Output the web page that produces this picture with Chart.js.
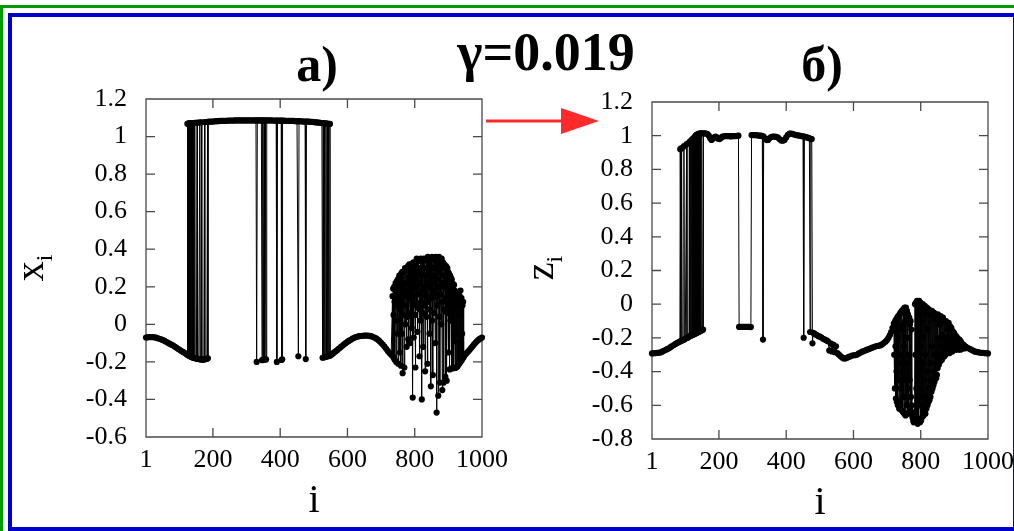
<!DOCTYPE html>
<html><head><meta charset="utf-8">
<script src="https://cdn.jsdelivr.net/npm/chart.js@4.4.0/dist/chart.umd.min.js"></script>
<style>
html,body{margin:0;padding:0;background:#fff;overflow:hidden;}
#wrap{position:relative;width:1014px;height:531px;overflow:hidden;background:#fff;}
canvas{position:absolute;left:0;top:0;}
svg{position:absolute;left:0;top:0;}
.gb{position:absolute;left:0;top:5px;width:1030px;height:600px;border-left:3px solid #009a00;border-top:3px solid #009a00;box-sizing:border-box;}
.bb{position:absolute;left:8px;top:13px;width:1009px;height:518px;border:4px solid #0000cc;box-sizing:border-box;}
</style></head>
<body><div id="wrap">
<div class="gb"></div><div class="bb"></div>
<canvas id="ca" width="1014" height="531"></canvas>
<canvas id="cb" width="1100" height="531"></canvas>
<svg width="1014" height="531" font-family="Liberation Serif">
  <text x="317" y="81" font-size="50" font-weight="bold" text-anchor="middle">a)</text>
  <text x="546" y="70" font-size="54" font-weight="bold" text-anchor="middle">γ=0.019</text>
  <text x="822" y="81" font-size="50" font-weight="bold" text-anchor="middle">б)</text>
  <text x="314" y="512" font-size="40" text-anchor="middle">i</text>
  <text x="820" y="514" font-size="40" text-anchor="middle">i</text>
  <text transform="translate(43,268) rotate(-90)" font-size="40" text-anchor="middle">x<tspan font-size="24" dy="9">i</tspan></text>
  <text transform="translate(553,268) rotate(-90)" font-size="40" text-anchor="middle">z<tspan font-size="24" dy="9">i</tspan></text>
  <line x1="486" y1="121" x2="566" y2="121" stroke="#ff2b2b" stroke-width="3"/>
  <polygon points="561,108 599,121 561,134" fill="#ff2b2b"/>
</svg>
</div>
<script>
// ---------- data ----------
const xTicks = [1, 200, 400, 600, 800, 1000];
const yTicksA = [-0.6, -0.4, -0.2, 0, 0.2, 0.4, 0.6, 0.8, 1, 1.2];
const yTicksB = [-0.8, -0.6, -0.4, -0.2, 0, 0.2, 0.4, 0.6, 0.8, 1, 1.2];
// consecutive oscillator numbers a..b (category indices only)
const range = (a, b) => Array.from({length: b - a + 1}, (_, k) => a + k);

// panel a) x_i : sampled oscillators outside the incoherent cluster
const iA1 = [
1,6,11,16,21,26,31,36,41,46,51,56,61,66,71,76,81,86,91,96,101,106,111,116,120,123,
124,125,126,127,128,129,130,131,132,133,134,135,136,138,139,140,141,143,144,146,147,149,151,153,154,156,158,161,162,164,166,167,170,173,175,176,179,182,184,185,186,
190,195,200,205,210,215,220,225,230,235,240,245,250,255,260,265,270,275,280,285,290,295,300,305,310,315,320,325,328,
330,332,336,340,344,346,348,350,352,354,356,358,360,365,370,375,380,385,388,390,392,396,400,403,404,406,407,411,415,420,425,430,435,440,445,450,452,454,456,460,465,470,474,476,478,482,486,490,495,500,505,510,515,520,524,
526,528,530,532,534,536,538,540,542,544,546,548,
549,553,557,561,565,569,573,577,581,585,589,593,597,601,605,610,615,620,625,630,635,640,645,650,655,660,665,670,675,680,685,690,695,700,705,710,715,720,725,730];
const xA1 = [
-0.070,-0.069,-0.068,-0.068,-0.068,-0.069,-0.071,-0.074,-0.077,-0.080,-0.084,-0.088,-0.093,-0.098,-0.103,-0.108,-0.112,-0.118,-0.124,-0.130,-0.136,-0.142,-0.147,-0.153,-0.157,-0.160,
1.068,-0.163,1.069,-0.165,1.069,-0.167,1.070,-0.169,1.070,-0.171,1.071,-0.173,1.071,-0.175,1.072,-0.177,1.072,-0.178,-0.179,1.073,-0.180,-0.181,-0.182,1.074,-0.183,-0.184,-0.185,1.075,-0.186,-0.187,1.076,-0.187,-0.188,-0.187,1.077,-0.186,-0.185,-0.183,1.078,-0.181,1.078,
1.079,1.080,1.080,1.081,1.082,1.082,1.083,1.083,1.084,1.084,1.084,1.085,1.085,1.085,1.085,1.086,1.086,1.086,1.086,1.086,1.086,1.086,1.086,1.086,1.086,1.086,1.086,1.086,1.086,
-0.200,1.086,1.086,1.086,1.086,-0.191,1.086,-0.189,1.086,-0.188,1.086,-0.187,1.086,1.086,1.086,1.086,1.085,1.085,1.085,-0.200,1.085,1.085,1.085,1.085,-0.190,-0.186,1.085,1.085,1.084,1.084,1.084,1.083,1.083,1.083,1.082,1.082,1.082,-0.170,1.082,1.081,1.081,1.080,1.080,-0.185,1.080,1.079,1.079,1.078,1.078,1.077,1.076,1.075,1.074,1.073,1.072,
-0.178,1.071,-0.176,1.070,-0.174,1.070,-0.172,1.069,-0.170,1.068,-0.168,1.067,
-0.166,-0.160,-0.155,-0.149,-0.144,-0.138,-0.132,-0.126,-0.120,-0.114,-0.108,-0.102,-0.097,-0.092,-0.087,-0.082,-0.076,-0.072,-0.068,-0.065,-0.063,-0.062,-0.061,-0.060,-0.060,-0.060,-0.061,-0.063,-0.066,-0.070,-0.075,-0.081,-0.089,-0.098,-0.108,-0.118,-0.130,-0.142,-0.153,-0.162];
// panel a) incoherent cluster, oscillators 734..946
const xA2 = [
0.15,-0.17,0.19,0.05,-0.18,0.20,0.12,-0.19,0.10,0.22,
0.18,-0.20,0.02,0.23,0.15,-0.05,0.24,-0.21,0.20,0.10,
0.26,0.08,-0.15,0.25,0.18,-0.22,0.27,0.12,-0.05,0.28,
-0.26,0.20,0.05,0.28,0.15,-0.23,0.22,0.30,0.00,0.18,
0.30,0.10,-0.12,0.29,0.22,0.04,0.31,-0.08,0.25,0.14,
0.32,0.20,-0.10,0.28,0.06,0.32,0.18,-0.02,0.30,0.12,
-0.39,0.27,0.33,-0.07,0.15,0.30,0.24,0.05,-0.23,0.33,
0.20,0.10,0.35,0.28,-0.04,0.34,0.16,0.26,0.34,0.08,
-0.17,0.30,0.22,0.02,0.35,0.12,0.28,-0.40,0.33,0.18,
0.06,-0.12,0.30,0.35,0.20,0.10,0.34,-0.25,0.26,0.15,
0.35,0.04,0.30,0.22,-0.21,0.36,0.12,0.28,0.34,0.08,
-0.05,0.32,0.20,0.35,-0.33,0.25,0.14,0.36,0.02,0.30,
-0.27,0.18,0.35,0.26,0.06,0.34,0.22,-0.10,0.36,0.15,
0.30,-0.47,0.24,0.35,0.10,0.32,-0.38,0.20,0.36,0.04,
0.28,-0.31,0.34,0.16,0.30,0.00,0.35,0.22,-0.35,0.12,
0.33,0.26,-0.31,0.08,0.32,0.20,0.30,-0.28,0.14,0.31,
0.24,-0.30,0.06,0.30,0.18,0.28,-0.15,0.10,0.27,0.22,
-0.24,0.26,0.02,0.25,0.15,-0.235,0.24,0.08,0.22,-0.234,
0.20,0.12,-0.233,0.21,-0.09,0.18,-0.232,0.10,0.17,-0.23,
0.14,-0.05,0.16,-0.225,0.08,0.12,-0.215,0.05,0.10,-0.208,
0.15,-0.20,0.18,-0.09,-0.195,0.14,-0.19,-0.05,0.10,-0.18,0.12,-0.175,-0.17];
const iA3 = [948,952,956,960,964,968,972,976,980,984,988,992,996,1000];
const xA3 = [-0.165,-0.158,-0.150,-0.142,-0.134,-0.125,-0.117,-0.108,-0.100,-0.092,-0.085,-0.079,-0.074,-0.070];

// panel б) z_i
const iB1 = [
1,6,11,16,21,26,31,36,41,46,51,56,61,66,71,76,81,84,
85,87,89,91,94,96,97,100,104,105,108,111,112,113,115,116,117,119,120,121,122,123,124,125,126,127,128,129,130,131,132,133,134,135,136,137,138,139,140,141,142,143,144,145,147,149,151,153,
154,158,162,166,170,174,178,182,186,190,194,198,202,206,210,215,220,225,230,235,240,245,250,254,258,
260,264,268,272,276,280,284,288,292,295,
297,300,305,310,315,320,325,329,331,333,338,342,346,350,355,360,365,370,375,380,385,390,395,400,405,410,415,420,425,430,435,440,445,450,452,454,458,462,466,469,471,473,476,478,
480,484,488,492,496,500,505,510,515,520,524,528,532,536,540,544,548,552,556,561,566,571,576,581,586,591,596,601,606,611,616,621,626,631,636,641,646,651,656,661,666,671,676,681,686,691,696,700,704,708,712,716,720];
const zB1 = [
-0.292,-0.291,-0.290,-0.289,-0.288,-0.286,-0.282,-0.277,-0.272,-0.267,-0.262,-0.255,-0.248,-0.242,-0.236,-0.230,-0.225,-0.222,
0.920,-0.218,0.926,-0.215,-0.212,0.938,-0.209,-0.205,0.950,-0.200,-0.197,-0.193,0.962,-0.190,-0.188,0.968,-0.186,0.975,-0.184,0.978,-0.182,0.981,-0.180,0.985,-0.178,0.990,-0.176,0.995,-0.174,1.000,-0.172,1.003,-0.170,1.006,-0.168,1.008,-0.166,1.010,-0.164,1.012,-0.162,1.013,-0.160,1.014,-0.157,1.014,-0.153,-0.150,
1.014,1.014,1.013,1.010,1.000,0.985,0.975,0.982,0.990,0.995,0.990,0.982,0.980,0.986,0.994,0.996,0.998,0.998,0.997,0.996,0.997,0.998,0.998,0.999,1.000,
-0.135,-0.135,-0.134,-0.134,-0.134,-0.134,-0.135,-0.135,-0.135,-0.136,
1.004,1.004,1.004,1.003,1.002,1.000,1.000,0.998,-0.210,0.995,0.982,0.974,0.975,0.985,0.992,0.995,0.995,0.993,0.990,0.980,0.972,0.970,0.975,0.990,1.005,1.012,1.012,1.010,1.006,1.004,1.002,1.000,0.998,0.996,-0.199,0.995,0.992,0.990,0.987,0.985,-0.165,0.982,0.980,-0.232,
-0.170,-0.175,-0.180,-0.185,-0.190,-0.193,-0.198,-0.205,-0.210,-0.215,-0.220,-0.275,-0.232,-0.280,-0.240,-0.285,-0.250,-0.290,-0.298,-0.308,-0.316,-0.322,-0.322,-0.318,-0.313,-0.309,-0.305,-0.303,-0.302,-0.299,-0.292,-0.287,-0.282,-0.278,-0.274,-0.270,-0.266,-0.262,-0.258,-0.254,-0.250,-0.248,-0.246,-0.243,-0.237,-0.229,-0.221,-0.212,-0.200,-0.185,-0.165,-0.140,-0.115];
// panel б) incoherent cluster, oscillators 721..935
const zB2 = [
-0.30,-0.11,-0.50,-0.10,-0.25,-0.56,-0.09,-0.40,-0.58,-0.08,
-0.20,-0.60,-0.07,-0.45,-0.35,-0.62,-0.06,-0.15,-0.58,-0.05,
-0.50,-0.30,-0.63,-0.04,-0.40,-0.12,-0.64,-0.03,-0.55,-0.25,
-0.65,-0.02,-0.45,-0.10,-0.66,-0.02,-0.35,-0.60,-0.04,-0.20,
-0.65,-0.06,-0.50,-0.30,-0.64,-0.08,-0.45,-0.12,-0.62,-0.10,
-0.55,-0.15,-0.60,-0.64,-0.67,-0.66,-0.68,-0.69,-0.70,-0.68,
-0.70,-0.69,0.00,-0.30,-0.68,0.01,-0.50,-0.70,0.02,-0.15,
-0.71,0.00,-0.40,-0.68,0.02,-0.60,-0.10,-0.70,0.01,-0.25,
-0.69,-0.02,-0.55,-0.35,-0.67,0.00,-0.20,-0.66,-0.03,-0.45,
-0.64,-0.01,-0.30,-0.65,-0.05,-0.55,-0.62,-0.02,-0.40,-0.60,
-0.04,-0.15,-0.58,-0.03,-0.50,-0.57,-0.06,-0.35,-0.55,-0.05,
-0.45,-0.52,-0.04,-0.25,-0.50,-0.07,-0.40,-0.48,-0.05,-0.30,
-0.46,-0.08,-0.42,-0.06,-0.35,-0.44,-0.07,-0.42,-0.09,-0.38,
-0.06,-0.33,-0.20,-0.36,-0.08,-0.32,-0.12,-0.34,-0.07,-0.25,
-0.31,-0.09,-0.33,-0.18,-0.30,-0.08,-0.29,-0.22,-0.10,-0.31,
-0.10,-0.28,-0.20,-0.30,-0.10,-0.27,-0.24,-0.12,-0.29,-0.15,
-0.28,-0.22,-0.11,-0.27,-0.19,-0.29,-0.13,-0.26,-0.21,-0.28,
-0.14,-0.25,-0.20,-0.28,-0.16,-0.26,-0.23,-0.27,-0.17,-0.26,
-0.18,-0.27,-0.22,-0.25,-0.19,-0.265,-0.23,-0.26,-0.20,-0.27,
-0.23,-0.26,-0.21,-0.265,-0.21,-0.26,-0.24,-0.27,-0.22,-0.26,
-0.24,-0.265,-0.235,-0.26,-0.245,-0.262,-0.24,-0.258,-0.248,-0.26,-0.25,-0.262,-0.252,-0.26,-0.255];
const iB3 = [940,945,950,955,960,965,970,975,980,985,990,995,1000];
const zB3 = [-0.26,-0.265,-0.27,-0.275,-0.28,-0.283,-0.285,-0.287,-0.288,-0.289,-0.290,-0.291,-0.292];

const iA = [...iA1, ...range(734, 946), ...iA3];
const xA = [...xA1, ...xA2, ...xA3];
const iB = [...iB1, ...range(721, 935), ...iB3];
const zB = [...zB1, ...zB2, ...zB3];

// ---------- drawing ----------
const FONT = 'Liberation Serif';
const framePlugin = {
  id: 'frame',
  beforeDatasetsDraw(chart) {
    const {ctx, chartArea: a, scales} = chart;
    const L = 9;
    ctx.save();
    ctx.strokeStyle = '#4a4a4a';
    ctx.lineWidth = 1.3;
    ctx.beginPath();
    ctx.rect(a.left, a.top, a.right - a.left, a.bottom - a.top);
    scales.x.ticks.forEach(t => {
      const p = scales.x.getPixelForValue(t.value);
      ctx.moveTo(p, a.bottom); ctx.lineTo(p, a.bottom - L);
      ctx.moveTo(p, a.top); ctx.lineTo(p, a.top + L);
    });
    scales.y.ticks.forEach(t => {
      const p = scales.y.getPixelForValue(t.value);
      ctx.moveTo(a.left, p); ctx.lineTo(a.left + L, p);
      ctx.moveTo(a.right, p); ctx.lineTo(a.right - L, p);
    });
    ctx.stroke();
    ctx.restore();
  }
};

function makeChart(id, is, vs, yTicks, yMin, yMax, pad) {
  const n = Math.min(is.length, vs.length);
  const pts = is.slice(0, n).map((v, k) => ({x: v, y: vs[k]}));
  return new Chart(document.getElementById(id), {
    type: 'scatter',
    data: {datasets: [{
      data: pts, showLine: true, borderColor: '#000', borderWidth: 1,
      pointRadius: 3.1, pointBackgroundColor: '#000', pointBorderWidth: 0,
      pointHoverRadius: 0, clip: 6
    }]},
    options: {
      responsive: false, animation: false, devicePixelRatio: 1,
      events: [],
      layout: {padding: pad},
      plugins: {legend: {display: false}, tooltip: {enabled: false}},
      scales: {
        x: {
          type: 'linear', min: 1, max: 1000,
          afterBuildTicks: s => { s.ticks = xTicks.map(v => ({value: v})); },
          afterFit: s => { s.height = 74; },
          grid: {display: false, drawTicks: false}, border: {display: false},
          ticks: {autoSkip: false, maxRotation: 0, minRotation: 0, padding: 8, color: '#000',
                  font: {family: FONT, size: 26}, callback: v => String(v)}
        },
        y: {
          type: 'linear', min: yMin, max: yMax,
          afterBuildTicks: s => { s.ticks = yTicks.map(v => ({value: v})); },
          afterFit: s => { s.width = 126; },
          grid: {display: false, drawTicks: false}, border: {display: false},
          ticks: {autoSkip: false, padding: 19, color: '#000',
                  font: {family: FONT, size: 26}, callback: v => String(Math.round(v * 10) / 10)}
        }
      }
    },
    plugins: [framePlugin]
  });
}

makeChart('ca', iA, xA, yTicksA, -0.6, 1.2, {left: 20, top: 99, right: 532, bottom: 20});
makeChart('cb', iB, zB, yTicksB, -0.8, 1.2, {left: 526, top: 102, right: 112, bottom: 18});
</script>
</body></html>
